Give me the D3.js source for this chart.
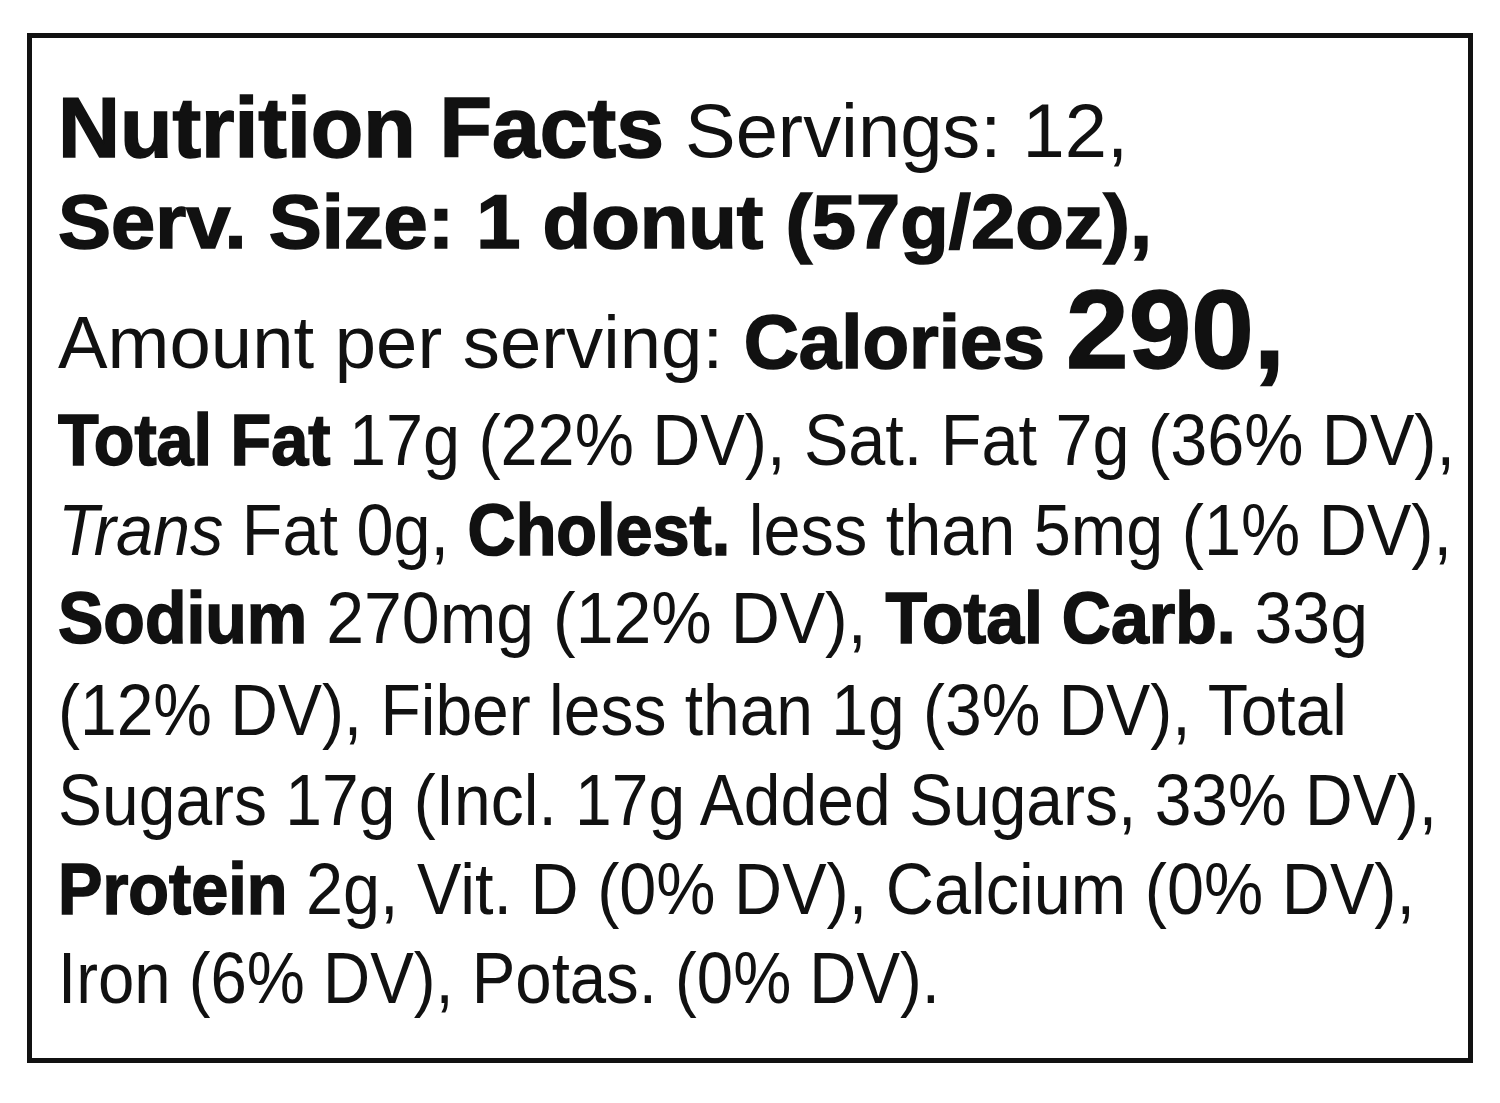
<!DOCTYPE html>
<html><head><meta charset="utf-8">
<script src="https://cdn.jsdelivr.net/npm/d3@7"></script>
<style>body{margin:0;background:#fff}</style></head>
<body><script>
const lines = [
 [["b","Nutrition Facts",86],["r"," Servings: 12,",76]],
 [["b","Serv. Size: 1 donut (57g/2oz),",76]],
 [["r","Amount per serving: ",74],["b","Calories ",76],["b","290,",112]],
 [["b","Total Fat",72],["r"," 17g (22% DV), Sat. Fat 7g (36% DV),",72]],
 [["i","Trans",72],["r"," Fat 0g, ",72],["b","Cholest.",72],["r"," less than 5mg (1% DV),",72]],
 [["b","Sodium",72],["r"," 270mg (12% DV), ",72],["b","Total Carb.",72],["r"," 33g",72]],
 [["r","(12% DV), Fiber less than 1g (3% DV), Total",72]],
 [["r","Sugars 17g (Incl. 17g Added Sugars, 33% DV),",72]],
 [["b","Protein",72],["r"," 2g, Vit. D (0% DV), Calcium (0% DV),",72]],
 [["r","Iron (6% DV), Potas. (0% DV).",72]]
];
const baselines = [157,248,368,465,555,643,735,825,914,1003];
const rightEdges = [1128,1152,1285,1455,1452,1368,1347,1437,1415,940];
const W=1500,H=1103,left=58;
const svg=d3.select("body").append("svg").attr("width",W).attr("height",H);
svg.append("rect").attr("x",29.5).attr("y",35.5).attr("width",1441).attr("height",1025)
  .attr("fill","none").attr("stroke","#111").attr("stroke-width",5);
const y=d3.scaleLinear().domain([0,1]).range([0,1]);
lines.forEach((segs,i)=>{
  const t=svg.append("text").attr("x",left).attr("y",y(baselines[i]))
    .attr("font-family","'Liberation Sans Narrow','Liberation Sans',Arial,sans-serif").attr("fill","#111")
    .style("white-space","pre").attr("xml:space","preserve");
  segs.forEach(([s,txt,fs])=>{
    const ts=t.append("tspan").text(txt).attr("font-size",fs);
    if(s==="b"){ts.attr("font-weight","bold").attr("stroke","#111").attr("stroke-width",1.6);}
    if(s==="i")ts.attr("font-style","italic");
  });
  const len=t.node().getComputedTextLength();
  t.attr("textLength",rightEdges[i]-left).attr("lengthAdjust","spacingAndGlyphs");
});
</script></body></html>
